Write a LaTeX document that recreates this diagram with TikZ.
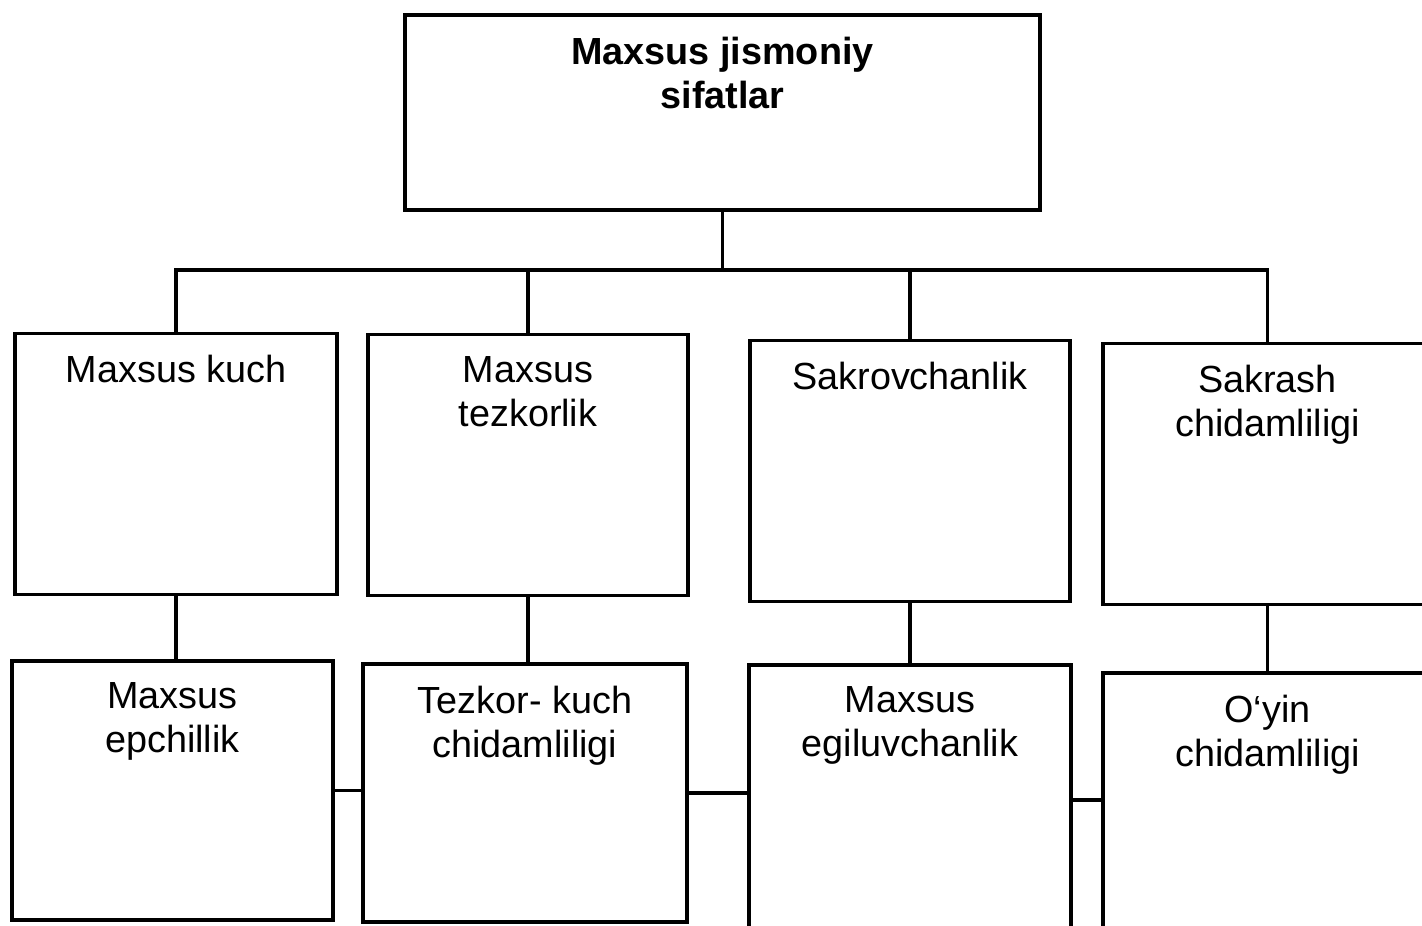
\documentclass[tikz,border=0pt]{standalone}
\usepackage{fontspec}
\setmainfont{Liberation Sans}
\usetikzlibrary{positioning}

\begin{document}
\begin{tikzpicture}[
            box/.style={rectangle, draw, line width=2pt, minimum width=6.44cm, minimum height=5.22cm, inner sep=0pt},
            boxtext/.style={anchor=north, yshift=-0.35cm, align=center, font=\fontsize{21.5}{25}\selectfont},
            line/.style={line width=2pt}
        ]
            \useasboundingbox (0,0) rectangle (28.44,-18.5);
            % top box
            \node[box, minimum width=12.7cm, minimum height=3.9cm, label={[boxtext, font=\fontsize{21.5}{25}\selectfont\bfseries]north:Maxsus jismoniy\\sifatlar}] (top) at (14.45,-2.25) {};
            % first row
            \node[box, label={[boxtext]north:Maxsus kuch}] (kuch) at (3.52,-9.28) {};
            \node[box, minimum width=6.4cm, label={[boxtext]north:Maxsus\\tezkorlik}] (tezkor) at (10.56,-9.3) {};
            \node[box, minimum width=6.4cm, label={[boxtext]north:Sakrovchanlik}] (sakrov) at (18.2,-9.42) {};
            \node[box, minimum width=6.58cm, label={[boxtext]north:Sakrash\\chidamliligi}] (sakrash) at (25.35,-9.48) {};
            % second row
            \node[box, minimum width=6.42cm, minimum height=5.18cm, below=1.26cm of kuch, xshift=-0.07cm, label={[boxtext]north:Maxsus\\epchillik}] (epchil) {};
            \node[box, minimum width=6.48cm, minimum height=5.16cm, below=1.3cm of tezkor, xshift=-0.06cm, label={[boxtext]north:Tezkor- kuch\\chidamliligi}] (tkchidam) {};
            \node[box, minimum height=5.4cm, below=1.2cm of sakrov, label={[boxtext]north:Maxsus\\egiluvchanlik}] (egil) {};
            \node[box, minimum width=6.58cm, minimum height=5.4cm, below=1.3cm of sakrash, label={[boxtext]north:O‘yin\\chidamliligi}] (oyin) {};
            % connectors
            \coordinate (bus) at (14.45,-5.4);
            \draw[line] (top.south) -- (bus);
            \draw[line] (kuch.north) |- (bus) -| (sakrash.north);
            \draw[line] (tezkor.north |- bus) -- (tezkor.north);
            \draw[line] (sakrov.north |- bus) -- (sakrov.north);
            \draw[line] (kuch.south) -- (kuch.south |- epchil.north);
            \draw[line] (tezkor.south) -- (tezkor.south |- tkchidam.north);
            \draw[line] (sakrov.south) -- (egil.north);
            \draw[line] (sakrash.south) -- (oyin.north);
            \draw[line] (epchil.east) -- (epchil.east -| tkchidam.west);
            \draw[line] (tkchidam.east) -- (tkchidam.east -| egil.west);
            \draw[line] (egil.east) -- (egil.east -| oyin.west);
        \end{tikzpicture}
\end{document}
